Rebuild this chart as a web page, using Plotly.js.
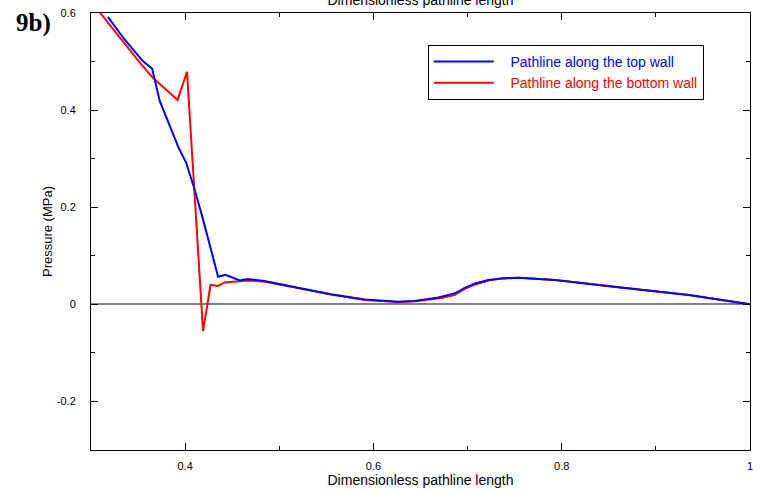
<!DOCTYPE html>
<html>
<head>
<meta charset="utf-8">
<script src="https://cdn.plot.ly/plotly-3.0.1.min.js"></script>
<style>html,body{margin:0;padding:0;background:#fff;}#chart{width:760px;height:492px;}</style>
</head>
<body>
<div id="chart"></div>
<script>
// Pathline along the top wall (blue)
var topX = [0.318, 0.335, 0.355, 0.365, 0.373, 0.385, 0.393, 0.401, 0.410, 0.419, 0.427, 0.435, 0.443, 0.458, 0.467, 0.484, 0.520, 0.555, 0.591, 0.626, 0.644, 0.662, 0.669, 0.683, 0.688, 0.697, 0.708, 0.722, 0.736, 0.754, 0.793, 0.864, 0.935, 1.0];
var topY = [0.592, 0.547, 0.501, 0.485, 0.419, 0.361, 0.323, 0.292, 0.237, 0.175, 0.113, 0.057, 0.061, 0.049, 0.052, 0.048, 0.034, 0.021, 0.010, 0.0055, 0.0068, 0.012, 0.014, 0.021, 0.024, 0.034, 0.043, 0.050, 0.053, 0.055, 0.050, 0.034, 0.019, 0.0];
// Pathline along the bottom wall (red)
var botX = [0.309, 0.330, 0.353, 0.366, 0.392, 0.402, 0.419, 0.427, 0.435, 0.442, 0.458, 0.467, 0.484, 0.520, 0.555, 0.591, 0.626, 0.644, 0.662, 0.672, 0.686, 0.692, 0.697, 0.708, 0.722, 0.736, 0.754, 0.793, 0.864, 0.935, 1.0];
var botY = [0.602, 0.551, 0.495, 0.466, 0.421, 0.479, -0.055, 0.040, 0.038, 0.045, 0.048, 0.049, 0.047, 0.033, 0.020, 0.009, 0.005, 0.0065, 0.011, 0.013, 0.019, 0.026, 0.032, 0.041, 0.049, 0.053, 0.055, 0.050, 0.034, 0.019, 0.0];

var seriesNames = ['Pathline along the top wall', 'Pathline along the bottom wall'];
var xTickVals = [0.4, 0.6, 0.8, 1];
var xTickText = ['0.4', '0.6', '0.8', '1'];
var yTickVals = [-0.2, 0, 0.2, 0.4, 0.6];
var yTickText = ['-0.2', '0', '0.2', '0.4', '0.6'];

var pad = '&nbsp;&nbsp;&nbsp;';
var traces = [
  {x: botX, y: botY, type: 'scatter', mode: 'lines', name: pad + '<span style="color:#ff0000">' + seriesNames[1] + '</span>',
   line: {color: '#ff0000', width: 2}},
  {x: topX, y: topY, type: 'scatter', mode: 'lines', name: pad + '<span style="color:#0000ff">' + seriesNames[0] + '</span>',
   line: {color: '#0000ff', width: 2}}
];

var axFont = {family: 'Liberation Sans, Arial, sans-serif', size: 11, color: '#000'};

var layout = {
  width: 760, height: 492,
  margin: {l: 91, r: 10, t: 13, b: 42},
  paper_bgcolor: '#fff', plot_bgcolor: '#fff',
  font: {family: 'Liberation Sans, Arial, sans-serif', color: '#000'},
  title: {text: 'Dimensionless pathline length', font: {size: 14, color: '#000'},
          xref: 'paper', x: 0.5, xanchor: 'center', yref: 'container', y: 1.0, yanchor: 'middle'},
  showlegend: true,
  legend: {x: 0.511, y: 0.927, xanchor: 'left', yanchor: 'top', bgcolor: '#fff',
           bordercolor: '#000', borderwidth: 1, traceorder: 'reversed',
           font: {size: 14}, itemwidth: 60, tracegroupgap: 0},
  xaxis: {
    range: [0.3, 1], tickvals: xTickVals, ticktext: xTickText, tickfont: axFont,
    ticks: 'inside', ticklen: 7, tickcolor: '#000', tickwidth: 1,
    minor: {dtick: 0.1, tick0: 0.3, ticks: 'inside', ticklen: 4, tickcolor: '#000'},
    showline: true, linecolor: '#000', linewidth: 1, mirror: 'allticks',
    showgrid: false, zeroline: false, ticklabelstandoff: 6,
    title: {text: 'Dimensionless pathline length', font: {size: 14}, standoff: 3}
  },
  yaxis: {
    range: [-0.3, 0.6], tickvals: yTickVals, ticktext: yTickText, tickfont: axFont,
    ticks: 'inside', ticklen: 7, tickcolor: '#000', tickwidth: 1,
    minor: {dtick: 0.1, tick0: 0.1, ticks: 'inside', ticklen: 4, tickcolor: '#000'},
    showline: true, linecolor: '#000', linewidth: 1, mirror: 'allticks',
    showgrid: false, zeroline: true, zerolinecolor: '#808080', zerolinewidth: 2,
    ticklabelstandoff: 12,
    title: {text: 'Pressure (MPa)', font: {size: 13}, standoff: 1}
  },
  annotations: [
    {text: '<b>9b)</b>', xref: 'paper', yref: 'paper', x: -0.088, y: 0.977, xanchor: 'center', yanchor: 'middle',
     showarrow: false, font: {family: 'Liberation Serif, Times New Roman, serif', size: 25, color: '#000'}}
  ]
};

Plotly.newPlot('chart', traces, layout, {displayModeBar: false, staticPlot: true});
</script>
</body>
</html>
